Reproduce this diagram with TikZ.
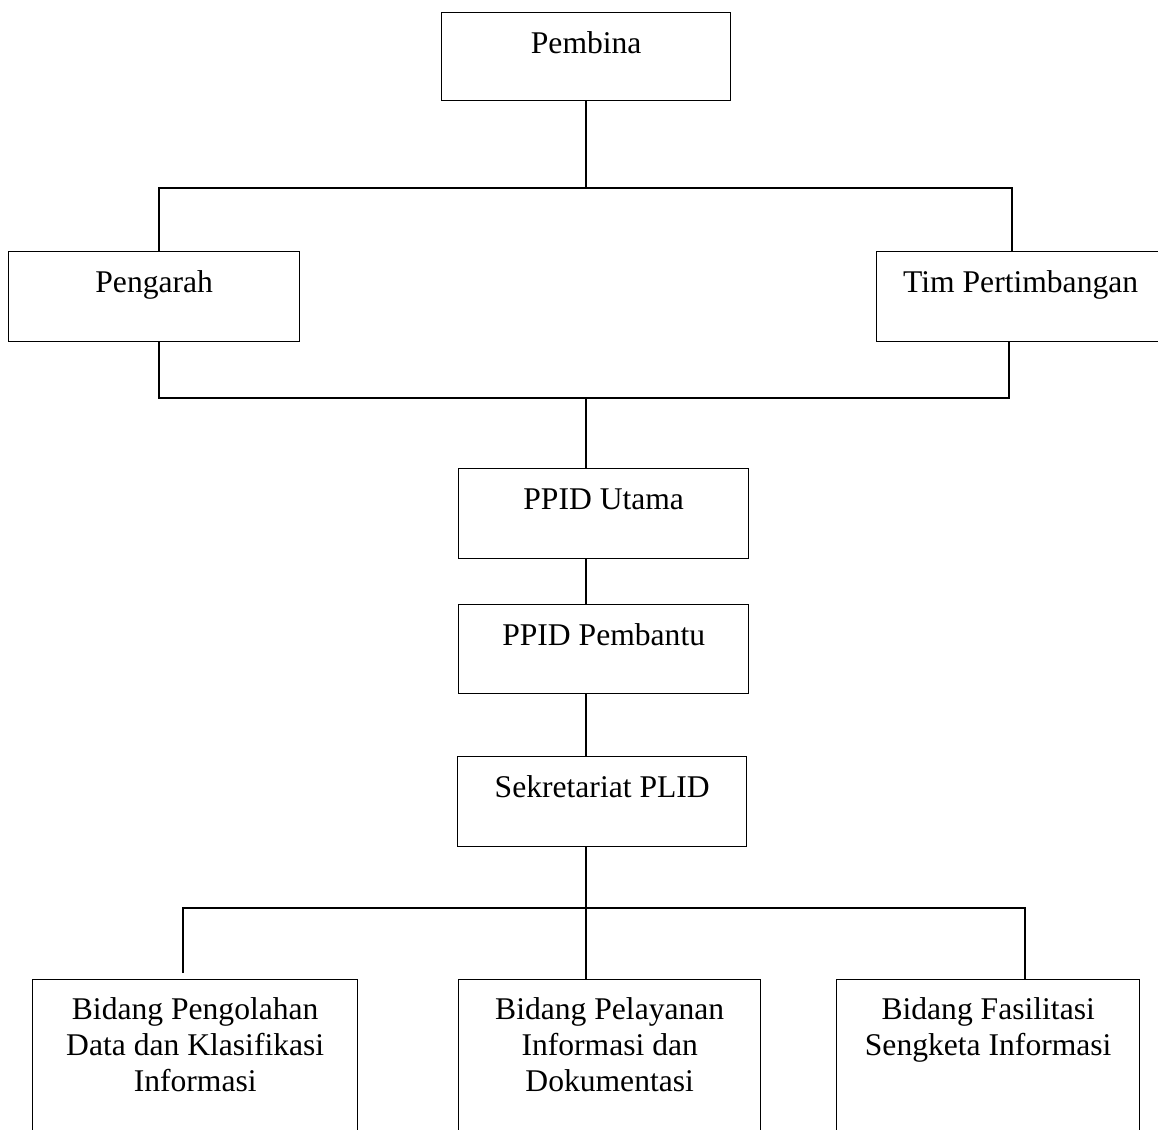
\documentclass[tikz,border=0pt]{standalone}
\usepackage{fontspec}
\setmainfont{Liberation Serif}
\usetikzlibrary{positioning}
\tikzset{
		>=stealth
	}

\begin{document}
\begin{tikzpicture}[x=0.5pt, y=-0.5pt,
					unit/.style={draw, line width=0.7pt, inner sep=0pt, anchor=north west,
						text height=20.5pt, text depth=24.5pt,
						font=\fontsize{15.8}{18}\selectfont},
					field/.style={unit, text height=20pt, text depth=90pt},
					link/.style={line width=1pt}]
		\path[use as bounding box, clip] (0,0) rectangle (1158,1130);
		\node[unit, minimum width=144.5pt, text depth=23.5pt] (pembina) at (441,12) {Pembina};
		\node[unit, minimum width=145.5pt] (pengarah) at (8,251) {Pengarah};
		\node[unit, minimum width=144pt] (tim) at (876,251) {Tim Pertimbangan};
		\node[unit, minimum width=145pt] (utama) at (458,468) {PPID Utama};
		\node[unit, minimum width=145pt, text depth=24pt] (pembantu) at (458,604) {PPID Pembantu};
		\node[unit, minimum width=144.5pt] (sekretariat) at (457,756) {Sekretariat PLID};
		\node[field, minimum width=162.5pt] (pengolahan) at (32,979)
			{\begin{tabular}[t]{@{}c@{}}Bidang Pengolahan\\Data dan Klasifikasi\\Informasi\end{tabular}};
		\node[field, minimum width=151pt] (pelayanan) at (458,979)
			{\begin{tabular}[t]{@{}c@{}}Bidang Pelayanan\\Informasi dan\\Dokumentasi\end{tabular}};
		\node[field, minimum width=151.5pt] (fasilitasi) at (836,979)
			{\begin{tabular}[t]{@{}c@{}}Bidang Fasilitasi\\Sengketa Informasi\end{tabular}};

		\coordinate (busTop) at (586,188);
		\coordinate (busTopL) at (159,188);
		\coordinate (busTopR) at (1012,188);
		\coordinate (busMid) at (586,398);
		\coordinate (busMidL) at (159,398);
		\coordinate (busMidR) at (1009,398);
		\coordinate (busLow) at (586,908);
		\coordinate (busLowL) at (183,908);
		\coordinate (busLowR) at (1025,908);
		\coordinate (stubL) at (183,973);

		\draw[link] (pembina.south -| busTop) -- (busTop);
		\draw[link] (pengarah.north -| busTopL) -- (busTopL) -- (busTopR) -- (tim.north -| busTopR);
		\draw[link] (pengarah.south -| busMidL) -- (busMidL) -- (busMidR) -- (tim.south -| busMidR);
		\draw[link] (busMid) -- (utama.north -| busMid);
		\draw[link] (utama.south -| busMid) -- (pembantu.north -| busMid);
		\draw[link] (pembantu.south -| busMid) -- (sekretariat.north -| busMid);
		\draw[link] (sekretariat.south -| busLow) -- (busLow);
		\draw[link] (stubL) -- (busLowL) -- (busLowR) -- (fasilitasi.north -| busLowR);
		\draw[link] (busLow) -- (pelayanan.north -| busLow);
	\end{tikzpicture}
\end{document}
